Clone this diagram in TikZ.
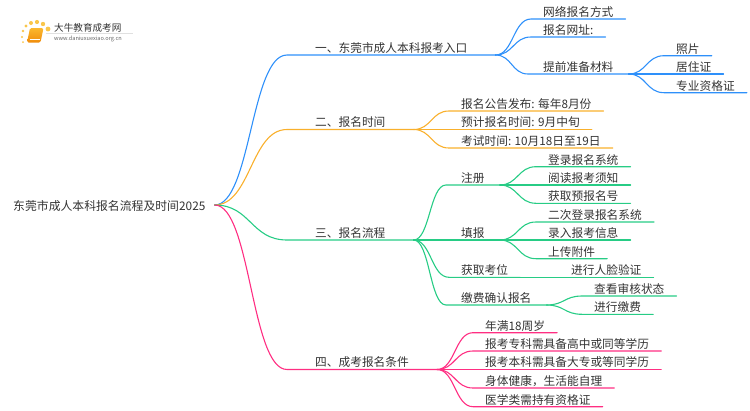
\documentclass[tikz,border=0pt]{standalone}
\usepackage{fontspec}
\usetikzlibrary{calc}
\setmainfont{Noto Sans CJK SC}
\definecolor{inkgrey}{HTML}{333333}
\definecolor{bluepen}{HTML}{2E90FA}
\definecolor{orangepen}{HTML}{F9B02C}
\definecolor{greenpen}{HTML}{27CC85}
\definecolor{pinkpen}{HTML}{FF2E82}
\definecolor{dotgold}{HTML}{F9C64B}
\definecolor{bookorange}{HTML}{F08C0C}
\definecolor{bookyellow}{HTML}{FBB82E}
\tikzset{
	leaf/.style={anchor=south west,inner xsep=12pt,inner ysep=2.5pt,text depth=0pt,text=inkgrey,font=\fontsize{11.7}{14}\selectfont},
	mid/.style={leaf,inner xsep=15pt},
	main/.style={leaf,inner xsep=28pt},
	branch/.style={line width=1.1pt,line cap=round},
	sbend/.style={to path={let \p1=(\tikztostart),\p2=(\tikztotarget) in (\p1) .. controls (\x1/2+\x2/2,\y1) and (\x1/2+\x2/2,\y2) .. (\p2)}},
}
\begin{document}
\begin{tikzpicture}[x=1pt,y=-1pt]
	\useasboundingbox (0,0) rectangle (750,410) ;
	% logo
	\foreach \px/\py/\pr in {23/42/1,22/37/1.2,23/31/1.4,26/26/1.7,31/23/2,37/22/2.1,43/24/2.2,48/29/2.4}
		\fill[dotgold] (\px,\py) circle[radius=\pr] ;
	\shade[top color=bookyellow,bottom color=bookorange,rounded corners=1.5pt] (30,28) -- (43.5,28) -- (40.5,42.5) -- (27,42.5) -- cycle ;
	\draw[white,line width=.5pt] (29.5,39.5) -- (39.5,39.5) ;
	\draw[black!12,line width=.6pt] (46,33) -- (133,33) ;
	\node[anchor=west,inner sep=0pt,text=inkgrey,font=\fontsize{9.6}{11}\selectfont] (logotext) at (54,27.5) {大牛教育成考网} ;
	\node[anchor=west,inner sep=0pt,text=black!60,font=\fontsize{5.6}{7}\selectfont] (logourl) at (54,39) {www.daniuxuexiao.org.cn} ;
	% root
	\node[leaf,anchor=west,inner xsep=9pt,inner ysep=0pt,font=\fontsize{11.85}{14}\selectfont] (root) at (4,205) {东莞市成人本科报名流程及时间2025} ;
	% first level
	\node[main] (entry) at (287,55) {一、东莞市成人本科报考入口} ;
	\node[main] (time) at (287,129.5) {二、报名时间} ;
	\node[main] (flow) at (287,240) {三、报名流程} ;
	\node[main] (cond) at (287,369.5) {四、成考报名条件} ;
	% entry
	\node[leaf] (netway) at (531,19) {网络报名方式} ;
	\node[leaf] (netaddr) at (531,37) {报名网址:} ;
	\node[mid] (prep) at (528,74) {提前准备材料} ;
	\node[leaf] (photo) at (664,55.7) {照片} ;
	\node[leaf] (residence) at (664,74) {居住证} ;
	\node[leaf] (cert) at (664,92.7) {专业资格证} ;
	% time
	\node[leaf] (notice) at (449,111) {报名公告发布: 每年8月份} ;
	\node[leaf] (signup) at (449,129.5) {预计报名时间: 9月中旬} ;
	\node[leaf] (exam) at (449,148) {考试时间: 10月18日至19日} ;
	% flow
	\node[mid] (register) at (446,185) {注册} ;
	\node[mid] (fill) at (446,240) {填报} ;
	\node[leaf] (seat) at (449,277.3) {获取考位} ;
	\node[mid] (pay) at (446,305) {缴费确认报名} ;
	\node[leaf] (login) at (536,166.7) {登录报名系统} ;
	\node[leaf] (notes) at (536,185) {阅读报考须知} ;
	\node[leaf] (number) at (536,203.3) {获取预报名号} ;
	\node[leaf] (relogin) at (536,222) {二次登录报名系统} ;
	\node[leaf] (info) at (536,240) {录入报考信息} ;
	\node[leaf] (upload) at (536,258.7) {上传附件} ;
	\node[leaf] (face) at (559,277.3) {进行人脸验证} ;
	\node[leaf] (status) at (582,296) {查看审核状态} ;
	\node[leaf] (fee) at (582,314.3) {进行缴费} ;
	% cond
	\node[leaf] (age) at (473,332.7) {年满18周岁} ;
	\node[leaf] (junior) at (473,351) {报考专科需具备高中或同等学历} ;
	\node[leaf] (senior) at (473,369.5) {报考本科需具备大专或等同学历} ;
	\node[leaf] (health) at (473,388) {身体健康，生活能自理} ;
	\node[leaf] (medic) at (473,406.7) {医学类需持有资格证} ;
	% connectors
	\draw[branch,bluepen] (root.east) to[sbend] (entry.south west) -- (entry.south east) ;
	\foreach \pa/\ch in {entry/netway,entry/netaddr,entry/prep,prep/photo,prep/residence,prep/cert}
		\draw[branch,bluepen] (\pa.south east) to[sbend] (\ch.south west) -- (\ch.south east) ;
	\draw[branch,orangepen] (root.east) to[sbend] (time.south west) -- (time.south east) ;
	\foreach \pa/\ch in {time/notice,time/signup,time/exam}
		\draw[branch,orangepen] (\pa.south east) to[sbend] (\ch.south west) -- (\ch.south east) ;
	\draw[branch,greenpen] (root.east) to[sbend] (flow.south west) -- (flow.south east) ;
	\foreach \pa/\ch in {flow/register,flow/fill,flow/seat,flow/pay,register/login,register/notes,register/number,fill/relogin,fill/info,fill/upload,seat/face,pay/status,pay/fee}
		\draw[branch,greenpen] (\pa.south east) to[sbend] (\ch.south west) -- (\ch.south east) ;
	\draw[branch,pinkpen] (root.east) to[sbend] (cond.south west) -- (cond.south east) ;
	\foreach \pa/\ch in {cond/age,cond/junior,cond/senior,cond/health,cond/medic}
		\draw[branch,pinkpen] (\pa.south east) to[sbend] (\ch.south west) -- (\ch.south east) ;
\end{tikzpicture}
\end{document}
